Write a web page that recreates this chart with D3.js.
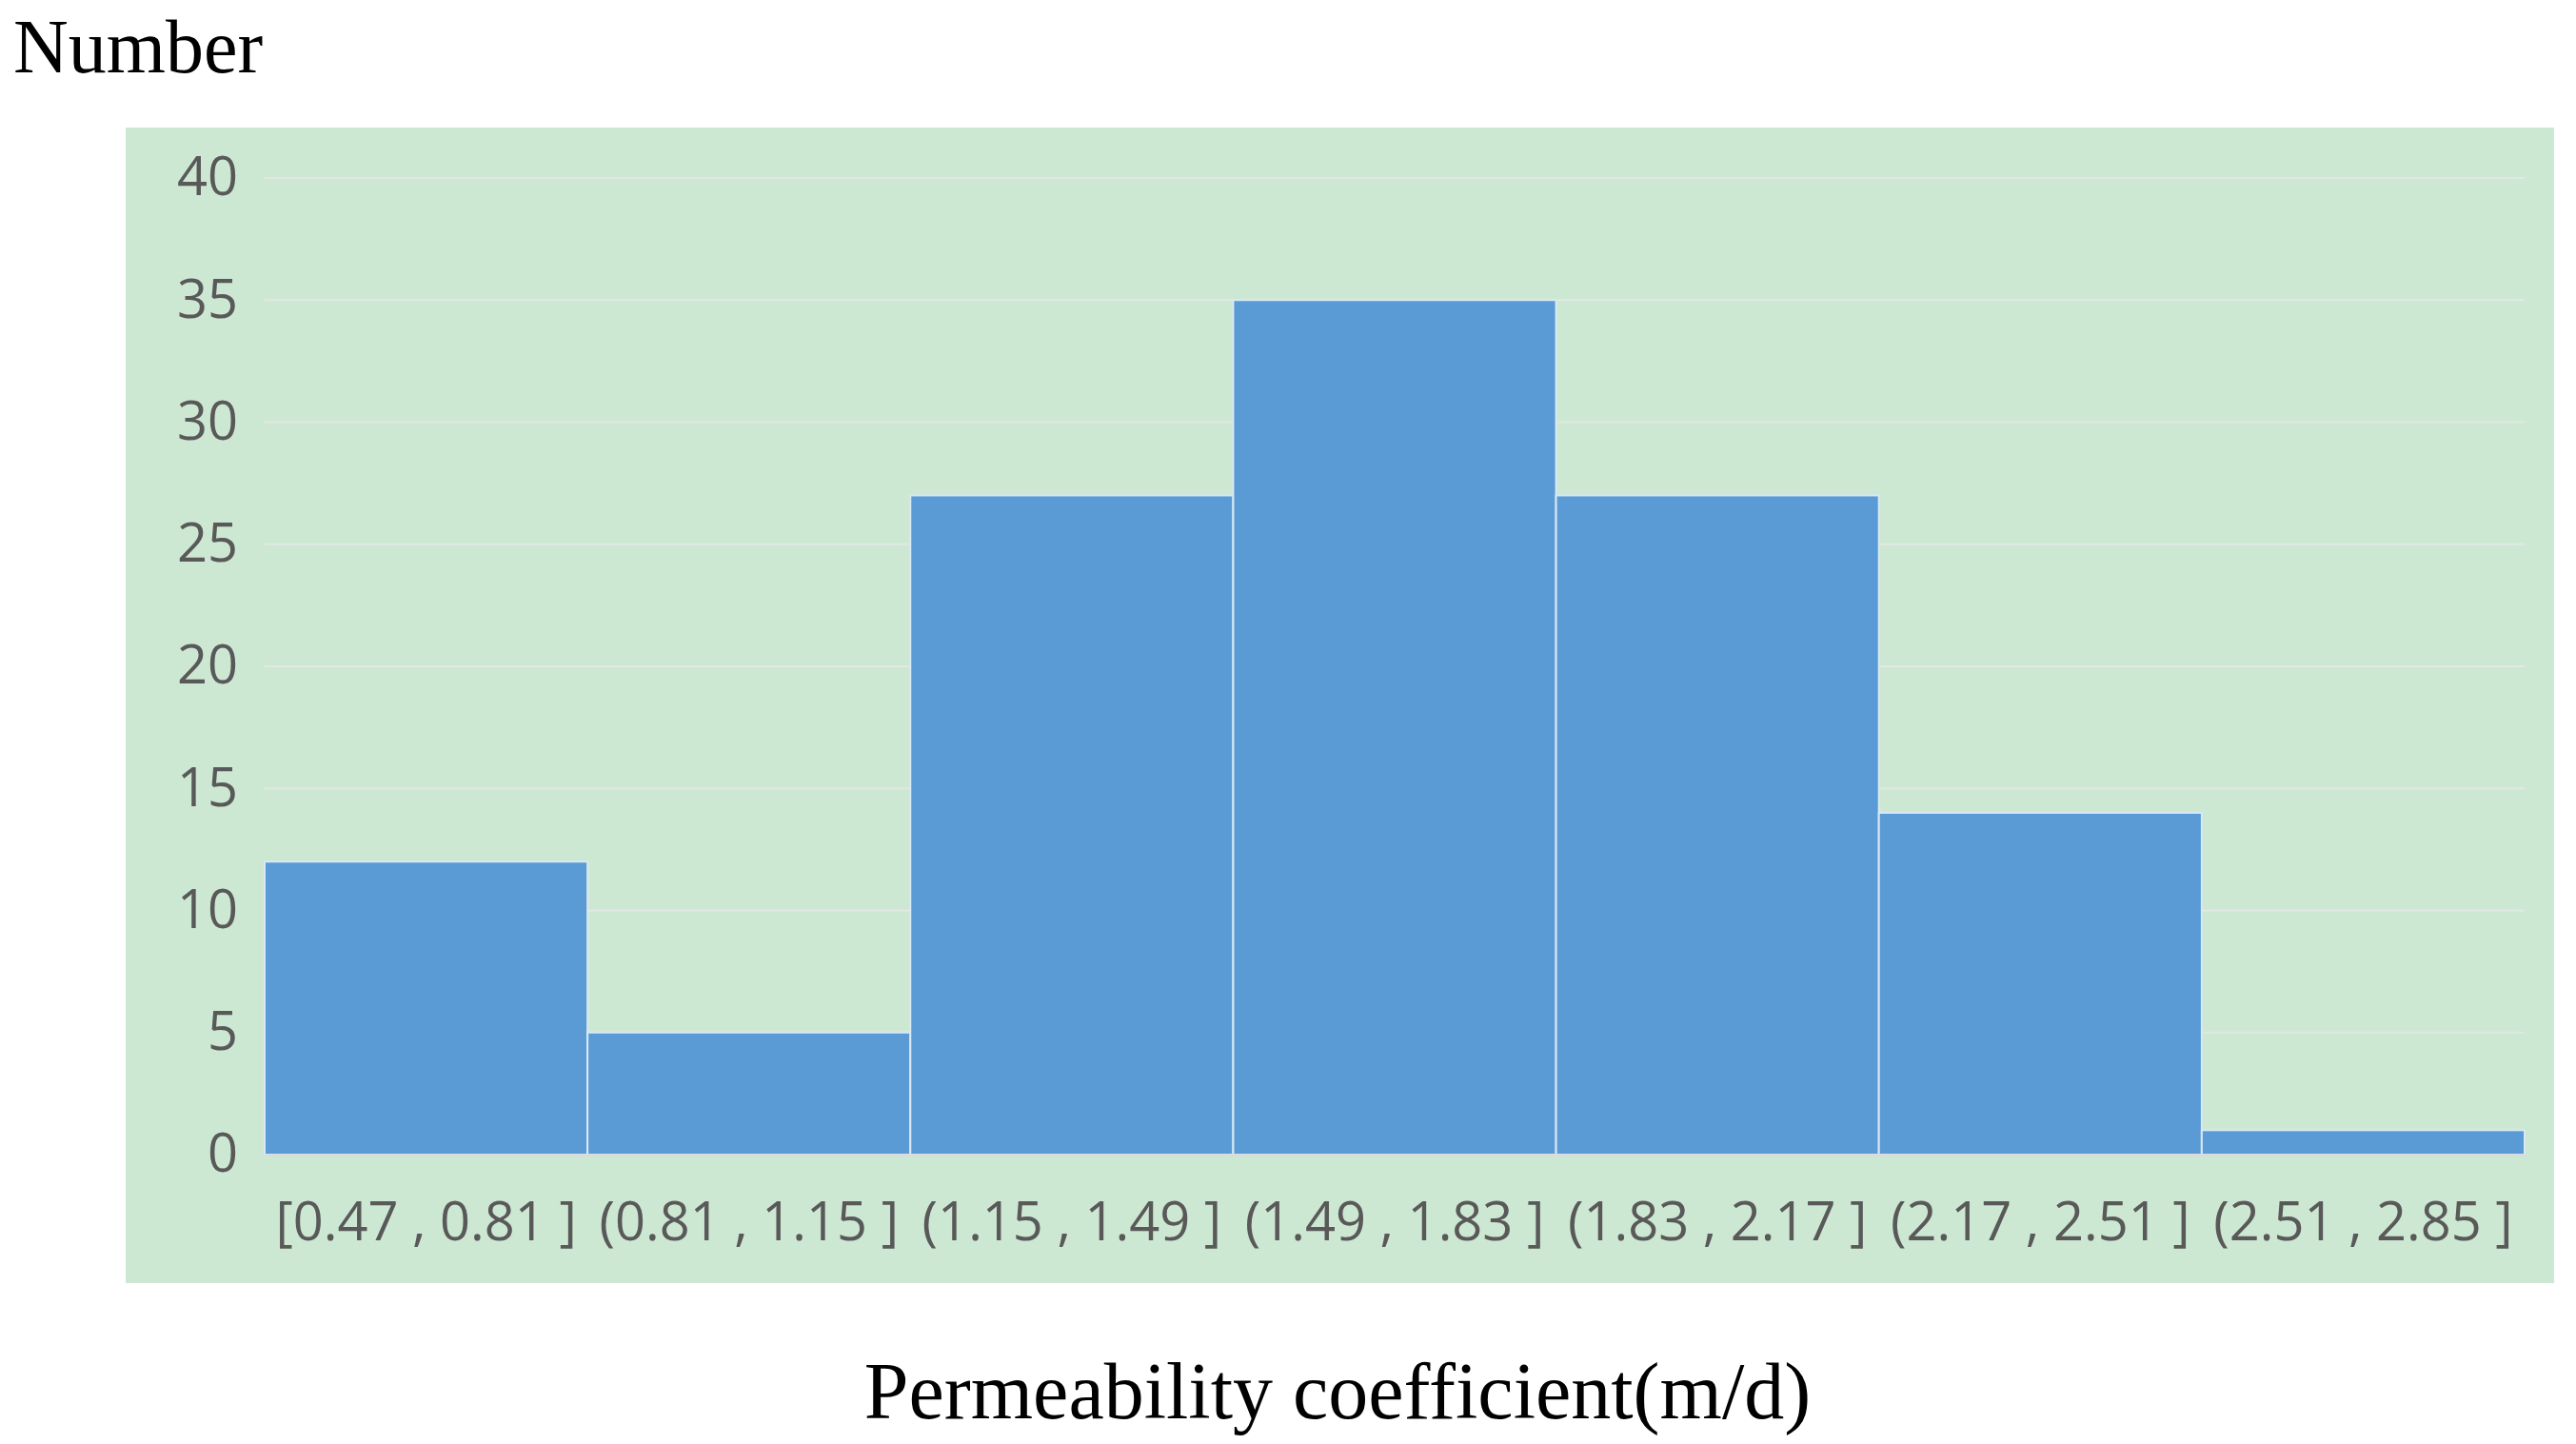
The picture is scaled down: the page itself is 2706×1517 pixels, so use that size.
<!DOCTYPE html>
<html><head><meta charset="utf-8">
<script src="https://cdn.jsdelivr.net/npm/d3@7"></script>
<style>body{margin:0;background:#fff}</style>
</head><body>
<script>
const categories = ["[0.47 , 0.81 ]","(0.81 , 1.15 ]","(1.15 , 1.49 ]","(1.49 , 1.83 ]","(1.83 , 2.17 ]","(2.17 , 2.51 ]","(2.51 , 2.85 ]"];
const counts = [12, 5, 27, 35, 27, 14, 1];
const yTicks = [0, 5, 10, 15, 20, 25, 30, 35, 40];

const W = 2706, H = 1517;
const svg = d3.select("body").append("svg").attr("width", W).attr("height", H);
svg.append("rect").attr("x",132).attr("y",134).attr("width",2551).attr("height",1214).attr("fill","#cde8d2");

const x = d3.scaleBand().domain(categories).range([278, 2652]).padding(0);
const y = d3.scaleLinear().domain([0, 40]).range([1213, 187]);

const g = svg.append("g");
g.selectAll("line.grid").data(yTicks).join("line")
  .attr("x1",278).attr("x2",2652).attr("y1",d=>y(d)).attr("y2",d=>y(d))
  .attr("stroke","#e2e8e2").attr("stroke-width",2);

g.selectAll("rect.bar").data(counts).join("rect")
  .attr("x",(d,i)=>x(categories[i])).attr("width",x.bandwidth())
  .attr("y",d=>y(d)).attr("height",d=>y(0)-y(d))
  .attr("fill","#5b9bd5").attr("stroke","#d8e8f4").attr("stroke-width",2);

const yAxis = svg.append("g").attr("transform","translate(278,0)")
  .call(d3.axisLeft(y).tickValues(yTicks).tickSize(0).tickPadding(28));
yAxis.select(".domain").remove();
yAxis.selectAll("text").attr("font-family","Open Sans, sans-serif").attr("font-size",56).attr("fill","#595959");

const xAxis = svg.append("g").attr("transform","translate(0,1213)")
  .call(d3.axisBottom(x).tickSize(0).tickPadding(50));
xAxis.select(".domain").attr("stroke","#d9d9d9").attr("stroke-width",2);
xAxis.selectAll("text").attr("font-family","Open Sans, sans-serif").attr("font-size",56).attr("fill","#595959");

svg.append("text").attr("x",14).attr("y",76).text("Number")
  .attr("font-family","Liberation Serif, Times New Roman, serif").attr("font-size",80).attr("fill","#000");
svg.append("text").attr("x",1405).attr("y",1490).attr("text-anchor","middle").text("Permeability coefficient(m/d)")
  .attr("font-family","Liberation Serif, Times New Roman, serif").attr("font-size",84).attr("fill","#000");
</script>
</body></html>
